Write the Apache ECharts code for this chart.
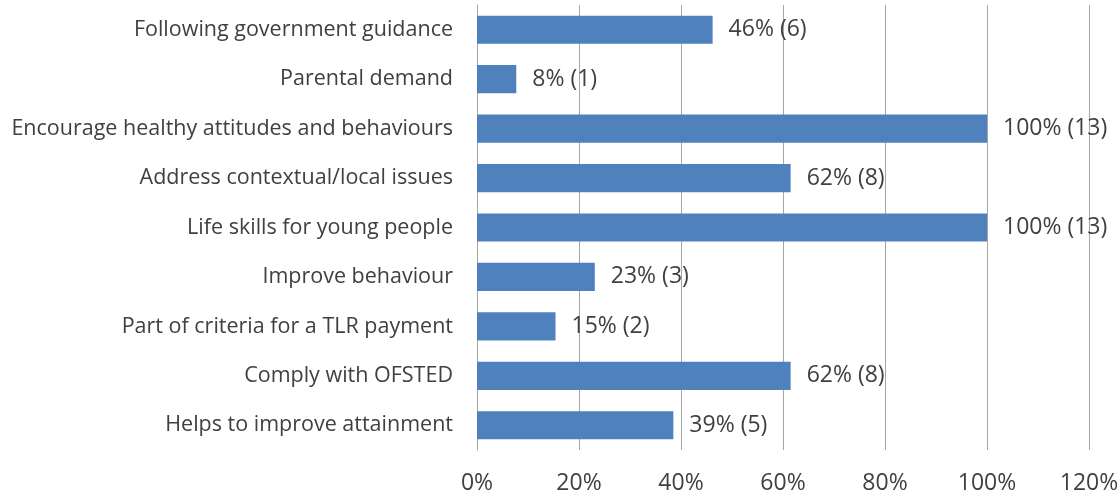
<!DOCTYPE html>
<html>
<head>
<meta charset="utf-8">
<script src="https://cdn.jsdelivr.net/npm/echarts@6/dist/echarts.min.js"></script>
<style>
  html, body { margin: 0; padding: 0; background: #fff; }
  #chart { width: 1117px; height: 497px; }
</style>
</head>
<body>
<div id="chart"></div>
<script>
// categories listed bottom to top (category axis starts at the bottom)
var categories = [
  "Helps to improve attainment",
  "Comply with OFSTED",
  "Part of criteria for a TLR payment",
  "Improve behaviour",
  "Life skills for young people",
  "Address contextual/local issues",
  "Encourage healthy attitudes and behaviours",
  "Parental demand",
  "Following government guidance"
];
var percents = [38.5, 61.5, 15.4, 23.1, 100, 61.5, 100, 7.7, 46.2];
var counts = [5, 8, 2, 3, 13, 8, 13, 1, 6];
var xTicks = [0, 20, 40, 60, 80, 100, 120];

var font = "Open Sans";
var chart = echarts.init(document.getElementById("chart"));
var option = {
  animation: false,
  grid: {
    left: 477, right: 28, top: 5, bottom: 47,
    containLabel: false,
    outerBoundsMode: "none"
  },
  xAxis: {
    type: "value",
    min: xTicks[0],
    max: xTicks[xTicks.length - 1],
    interval: 20,
    axisLine: { show: false },
    axisTick: { show: false },
    splitLine: { show: true, lineStyle: { color: "#a6a6a6", width: 1 } },
    axisLabel: {
      formatter: "{value}%",
      color: "#404040",
      fontFamily: font,
      fontSize: 23,
      margin: 22
    }
  },
  yAxis: {
    type: "category",
    data: categories,
    axisLine: { show: true, lineStyle: { color: "#a6a6a6", width: 1 } },
    axisTick: { show: false },
    axisLabel: {
      color: "#404040",
      fontFamily: font,
      fontSize: 21.5,
      margin: 24
    }
  },
  series: [
    {
      type: "bar",
      data: percents,
      barCategoryGap: "43%",
      itemStyle: { color: "#4f81bd" },
      label: {
        show: true,
        position: "right",
        distance: 16,
        color: "#404040",
        fontFamily: font,
        fontSize: 23,
        formatter: function (p) {
          return Math.round(p.value) + "% (" + counts[p.dataIndex] + ")";
        }
      }
    }
  ]
};
chart.setOption(option);
</script>
</body>
</html>
